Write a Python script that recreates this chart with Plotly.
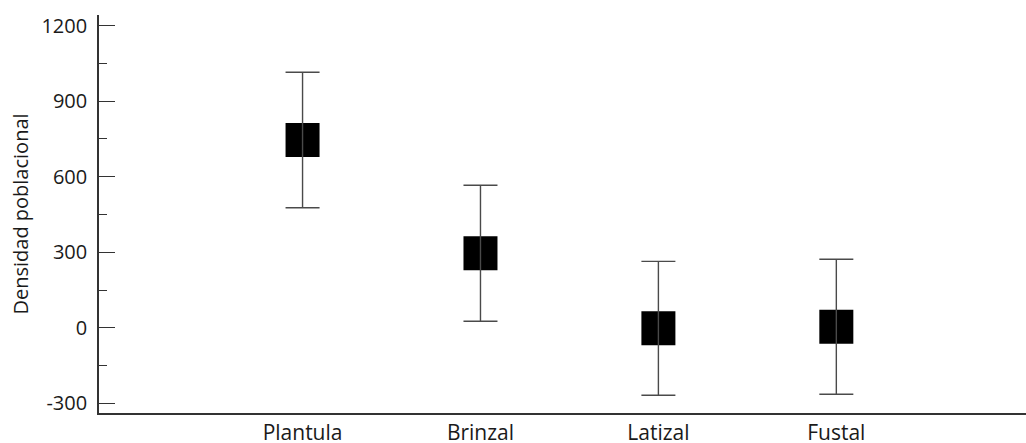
import plotly.graph_objects as go

categories = ["Plantula", "Brinzal", "Latizal", "Fustal"]
means = [746, 296, -2, 4]
err = [269, 270, 266, 268]
y_ticks = [-300, 0, 300, 600, 900, 1200]
y_tick_text = ["-300", "0", "300", "600", "900", "1200"]

fig = go.Figure()
xi = list(range(len(categories)))
fig.add_trace(go.Scatter(
    x=xi, y=means, mode="markers",
    marker=dict(symbol="square", size=34, color="black"),
    showlegend=False, hoverinfo="skip"))
fig.add_trace(go.Scatter(
    x=xi, y=means, mode="markers",
    marker=dict(symbol="square", size=34, color="rgba(0,0,0,0)"),
    error_y=dict(type="data", array=err, visible=True, color="#4a4a4a",
                 thickness=1.4, width=17),
    showlegend=False))

font = "Open Sans, Noto Sans, sans-serif"
fig.update_layout(
    width=1026, height=443,
    margin=dict(l=99, r=0, t=15, b=30),
    plot_bgcolor="white", paper_bgcolor="white",
    font=dict(family=font, size=20, color="#1a1a1a"),
    xaxis=dict(
        range=[-1.144, 4.066], tickmode="array", tickvals=xi, ticktext=categories,
        showgrid=False, zeroline=False, showline=True, linecolor="#333333",
        linewidth=1.6, ticks="", ticklabelstandoff=0, automargin=False,
        tickfont=dict(size=21)),
    yaxis=dict(
        range=[-338.5, 1242.5], tickmode="array", tickvals=y_ticks, ticktext=y_tick_text,
        showgrid=False, zeroline=False, showline=True, linecolor="#333333",
        linewidth=1.6, ticks="inside", ticklen=16, tickwidth=1.4, tickcolor="#333333",
        minor=dict(ticks="inside", ticklen=8, tickwidth=1.4, tickcolor="#333333", dtick=150, tick0=0),
        tickfont=dict(size=20), ticklabelstandoff=6, automargin=False,
        title=dict(text="Densidad poblacional", font=dict(size=20), standoff=7)),
)
fig.write_html("out.html", config={"displayModeBar": False},
               post_script="document.body.style.margin='0';document.body.style.overflow='hidden';")
